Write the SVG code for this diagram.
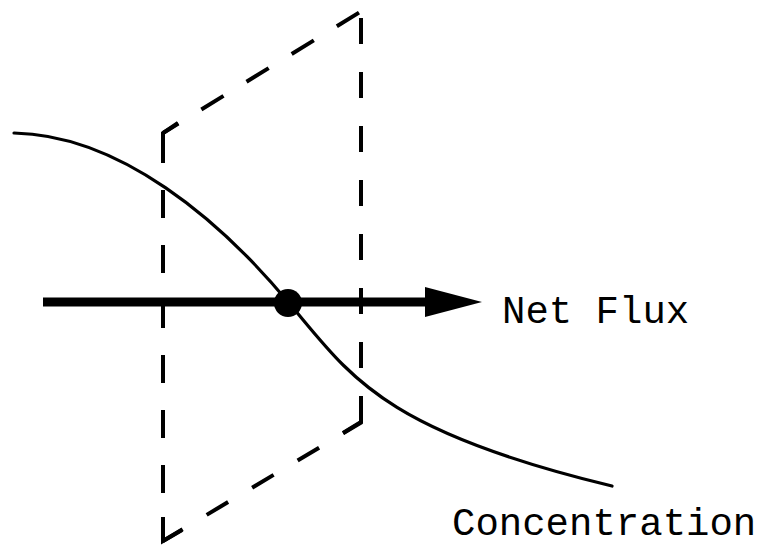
<svg xmlns="http://www.w3.org/2000/svg" width="762" height="546" viewBox="0 0 762 546">
<style>
.dash{fill:none;stroke:#000;stroke-width:4}
.curve{fill:none;stroke:#000;stroke-width:3.2;stroke-linecap:round}
.lbl{font-family:"Liberation Mono","Courier New",monospace;font-size:39px;fill:#000}
</style>
<rect width="762" height="546" fill="#fff"/>
<g id="plane">
<path class="dash" d="M178,123 L163,133 L163,163"/>
<line class="dash" x1="163" y1="190" x2="163" y2="541" stroke-dasharray="28 27"/>
<path class="dash" d="M163,517 L163,541 L182,530"/>
<line class="dash" x1="163" y1="133" x2="360" y2="12" stroke-dasharray="26 27" stroke-dashoffset="8"/>
<line class="dash" x1="361" y1="18" x2="361" y2="422" stroke-dasharray="26 28"/>
<path class="dash" d="M361,398 L361,422 L343,433"/>
<line class="dash" x1="362" y1="422" x2="163" y2="541" stroke-dasharray="25 28" stroke-dashoffset="3"/>
</g>
<g id="concentration-curve">
<path class="curve" d="M14,133 C120,135 220,220 289,303 C350,375 380,430 612,486"/>
</g>
<g id="connectors">
<line x1="43" y1="302" x2="428" y2="302" stroke="#000" stroke-width="9"/>
<polygon points="425,287 482,302 425,317" fill="#000"/>
</g>
<g id="point">
<circle cx="288" cy="303" r="14" fill="#000"/>
</g>
<g id="labels">
<text class="lbl" x="502" y="323">Net Flux</text>
<text class="lbl" x="452" y="535">Concentration</text>
</g>
</svg>
